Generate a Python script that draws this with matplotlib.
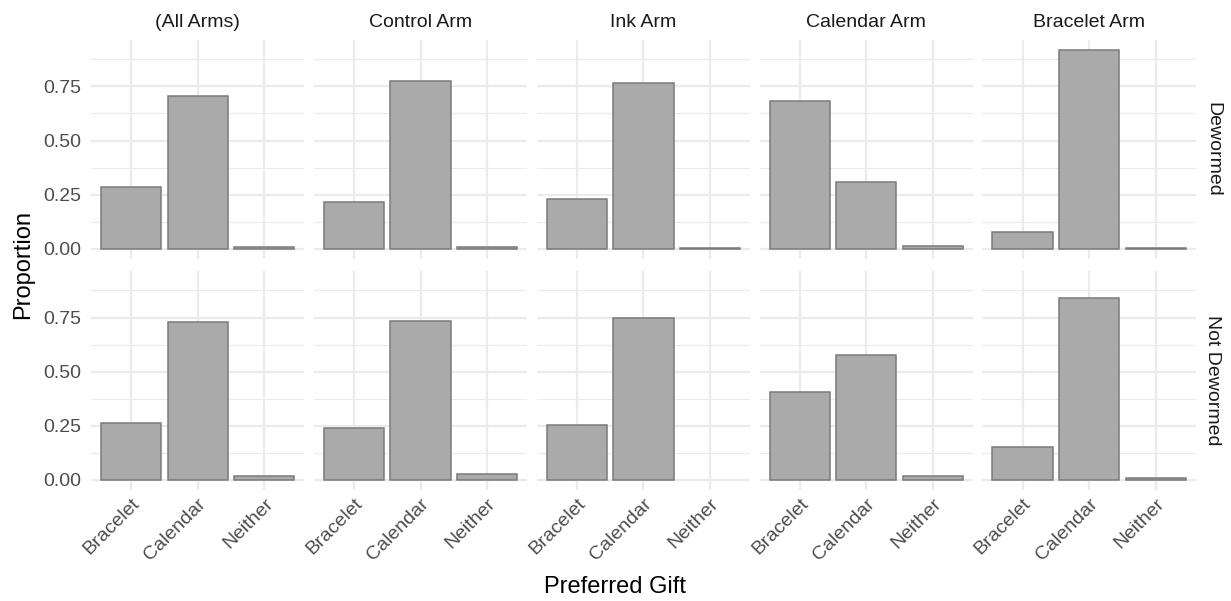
import matplotlib
matplotlib.use("Agg")
import matplotlib.pyplot as plt
import numpy as np

plt.rcParams['font.family'] = ['Liberation Sans', 'DejaVu Sans']

arms = ["(All Arms)", "Control Arm", "Ink Arm", "Calendar Arm", "Bracelet Arm"]
groups = ["Dewormed", "Not Dewormed"]
gifts = ["Bracelet", "Calendar", "Neither"]

# proportion per arm: [Bracelet, Calendar, Neither]; None = no bar
dewormed = [
    [0.284, 0.707, 0.007],
    [0.214, 0.776, 0.010],
    [0.232, 0.764, 0.004],
    [0.681, 0.307, 0.011],
    [0.078, 0.919, 0.004],
]
not_dewormed = [
    [0.263, 0.727, 0.017],
    [0.239, 0.736, 0.029],
    [0.253, 0.750, None],
    [0.407, 0.578, 0.017],
    [0.154, 0.841, 0.008],
]

fig, ax = plt.subplots(2, 5, figsize=(12.31, 6.01), dpi=100, sharex=True, sharey=True)
fig.subplots_adjust(left=0.0737, right=0.9717, top=0.934, bottom=0.185, wspace=0.043, hspace=0.055)

grid_col = '#ebebeb'
x = np.arange(len(gifts))
for r, data in enumerate([dewormed, not_dewormed]):
    for c in range(len(arms)):
        a = ax[r, c]
        xs = [i for i, v in enumerate(data[c]) if v is not None]
        hs = [v for v in data[c] if v is not None]
        a.bar(xs, hs, width=0.9, color='#aaaaaa', edgecolor='#7a7a7a', linewidth=1.1, zorder=3)
        a.set_xlim(-0.6, 2.6)
        a.set_ylim(-0.046, 0.966)
        a.set_yticks([0, 0.25, 0.5, 0.75])
        a.set_yticklabels(["0.00", "0.25", "0.50", "0.75"])
        a.set_yticks([0.125, 0.375, 0.625, 0.875], minor=True)
        a.set_xticks(x)
        a.grid(which='major', color=grid_col, linewidth=1.6, zorder=0)
        a.grid(which='minor', axis='y', color=grid_col, linewidth=0.8, zorder=0)
        for s in a.spines.values():
            s.set_visible(False)
        a.tick_params(which='both', length=0, labelsize=14, labelcolor='#4d4d4d')
        a.tick_params(axis='y', pad=7)
        a.tick_params(axis='x', pad=4)
        if r == 0:
            a.set_title(arms[c], fontsize=14, color='#1a1a1a', pad=9)
        if c == 4:
            a.text(1.078, 0.5, groups[r], transform=a.transAxes, rotation=-90,
                   ha='center', va='center', fontsize=14, color='#1a1a1a')
        if r == 1:
            a.set_xticklabels(gifts, rotation=45, ha='right', va='top', rotation_mode='anchor')

fig.supxlabel("Preferred Gift", fontsize=17, y=0.005)
fig.text(0.019, 0.56, "Proportion", rotation=90, ha='center', va='center', fontsize=17)

fig.savefig("out.png", dpi=100)
